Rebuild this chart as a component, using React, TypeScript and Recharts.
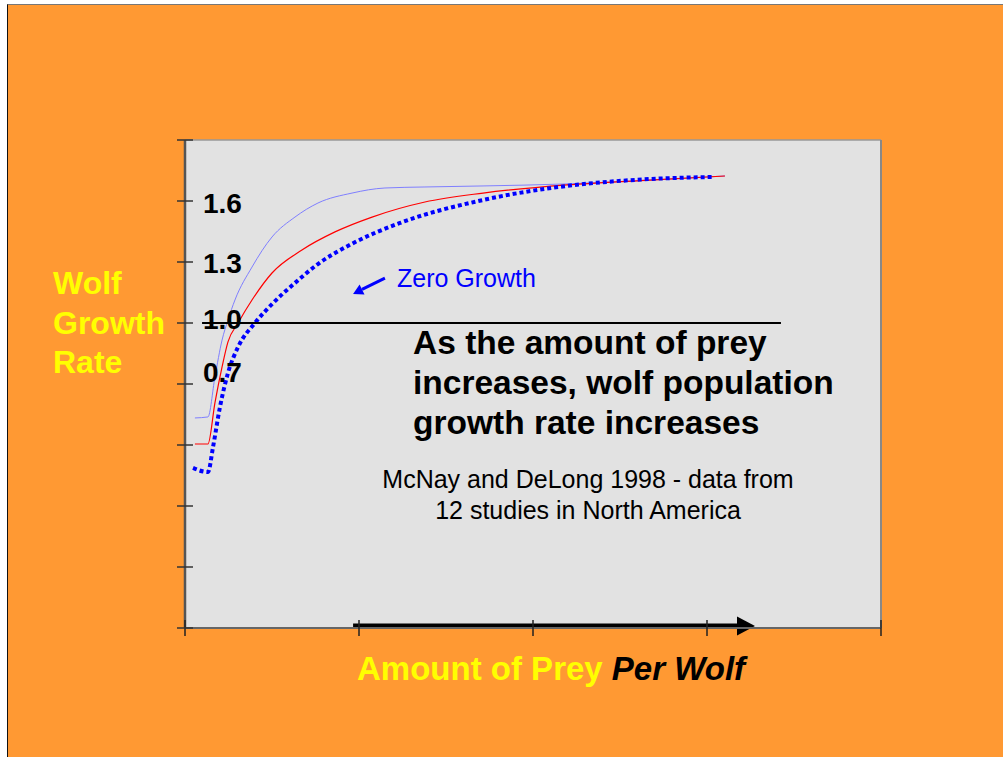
import { LineChart, Line, XAxis, YAxis, CartesianGrid, ReferenceLine } from 'recharts';

// curves: x = amount of prey per wolf (axis units), y = growth rate
const thinX = [0.057, 0.132, 0.172, 0.213, 0.247, 0.287, 0.385, 0.5, 0.632, 0.764, 0.96, 1.149, 1.379, 1.713, 2.195, 2.672, 3.103];
const thinY = [0.533, 0.538, 0.734, 0.916, 1.015, 1.113, 1.275, 1.423, 1.521, 1.59, 1.639, 1.664, 1.669, 1.674, 1.684, 1.703, 1.723];

const redX = [0.057, 0.132, 0.172, 0.213, 0.247, 0.305, 0.385, 0.5, 0.672, 0.862, 1.075, 1.379, 1.713, 2.195, 2.672, 3.103];
const redY = [0.405, 0.405, 0.607, 0.784, 0.907, 1.0, 1.113, 1.246, 1.359, 1.448, 1.521, 1.595, 1.639, 1.679, 1.703, 1.723];

const dotX = [0.046, 0.132, 0.161, 0.201, 0.247, 0.305, 0.402, 0.506, 0.632, 0.764, 0.96, 1.236, 1.713, 2.195, 2.672, 3.034];
const dotY = [0.287, 0.267, 0.39, 0.587, 0.754, 0.882, 1.0, 1.098, 1.197, 1.29, 1.39, 1.492, 1.605, 1.674, 1.708, 1.718];

const yTicks = [-0.5, -0.2, 0.1, 0.4, 0.7, 1.0, 1.3, 1.6, 1.9];
const xTicks = [0, 1, 2, 3, 4];
const labeledTicks = ['1.6', '1.3', '1.0', '0.7'];

const FONT = '"Liberation Sans", Arial, Helvetica, sans-serif';

const zip = (xs: number[], ys: number[]) => xs.map((x, i) => ({ x, y: ys[i] }));

function YTick({ x, y, payload }: any) {
  const v = Number(payload.value).toFixed(1);
  const dy: Record<string, number> = { '1.6': 2, '1.3': 1, '1.0': -4, '0.7': -12 };
  return (
    <g>
      <line x1={x - 8} x2={x + 8} y1={y} y2={y} stroke="#333" strokeWidth={1.5} />
      {labeledTicks.includes(v) && (
        <text x={x + 18} y={y + (dy[v] ?? 0) + 10} fontSize={28} fontWeight="bold" fill="#000" fontFamily={FONT}>
          {v}
        </text>
      )}
    </g>
  );
}

function XTick({ x, y }: any) {
  return <line x1={x} x2={x} y1={y - 8} y2={y + 8} stroke="#222" strokeWidth={1.5} />;
}

function arrow(color: string, width: number, headLen: number, headHalf: number) {
  return (props: any) => {
    const { x1, y1, x2, y2 } = props;
    const a = Math.atan2(y2 - y1, x2 - x1);
    const bx = x2 - headLen * Math.cos(a);
    const by = y2 - headLen * Math.sin(a);
    const px = -Math.sin(a) * headHalf;
    const py = Math.cos(a) * headHalf;
    return (
      <g>
        <line x1={x1} y1={y1} x2={bx} y2={by} stroke={color} strokeWidth={width} />
        <polygon points={`${x2},${y2} ${bx + px},${by + py} ${bx - px},${by - py}`} fill={color} />
      </g>
    );
  };
}

export default function App() {
  return (
    <div style={{ position: 'absolute', left: 0, top: 0, width: 1003, height: 757, background: '#fff', overflow: 'hidden' }}>
      <div
        style={{
          position: 'absolute', left: 7, top: 4, right: 0, bottom: 0,
          background: '#ff9933', borderLeft: '1.5px solid #111', borderTop: '1px solid #777',
        }}
      />
      <div style={{ position: 'absolute', left: 0, top: 0 }}>
        <LineChart width={1003} height={757} margin={{ top: 139, right: 121, bottom: 128, left: 184 }}>
          <CartesianGrid fill="#e2e2e2" horizontal={false} vertical={false} />
          <XAxis
            type="number" dataKey="x" domain={[0, 4]} ticks={xTicks} height={1}
            tickSize={0} tickMargin={0} tickLine={false} tick={<XTick />}
            axisLine={{ stroke: '#666', strokeWidth: 2 }}
          />
          <XAxis xAxisId="top" orientation="top" type="number" domain={[0, 4]} height={1} tick={false} tickLine={false} axisLine={{ stroke: '#999', strokeWidth: 1.5 }} />
          <YAxis
            type="number" domain={[-0.5, 1.9]} ticks={yTicks} width={1} allowDataOverflow
            tickSize={0} tickMargin={0} tickLine={false} tick={<YTick />}
            axisLine={{ stroke: '#555', strokeWidth: 2.5 }}
          />
          <YAxis yAxisId="right" orientation="right" type="number" domain={[-0.5, 1.9]} width={1} tick={false} tickLine={false} axisLine={{ stroke: '#888', strokeWidth: 2 }} />
          <Line data={zip(thinX, thinY)} dataKey="y" type="monotone" stroke="#7f7fff" strokeWidth={1} dot={false} isAnimationActive={false} />
          <Line data={zip(redX, redY)} dataKey="y" type="monotone" stroke="#ff0000" strokeWidth={1.2} dot={false} isAnimationActive={false} />
          <Line data={zip(dotX, dotY)} dataKey="y" type="monotone" stroke="#0000ff" strokeWidth={4} strokeDasharray="4 3" dot={false} isAnimationActive={false} />
          <ReferenceLine segment={[{ x: 0.098, y: 1 }, { x: 3.425, y: 1 }]} stroke="#000" strokeWidth={2} ifOverflow="visible" />
          <ReferenceLine segment={[{ x: 1.149, y: 1.221 }, { x: 0.966, y: 1.143 }]} ifOverflow="visible" shape={arrow('#0000ff', 3, 10, 5.5)} />
          <ReferenceLine segment={[{ x: 0.966, y: -0.49 }, { x: 3.276, y: -0.49 }]} ifOverflow="visible" shape={arrow('#000', 5, 18, 9.5)} />
        </LineChart>
      </div>

      <div style={{ position: 'absolute', left: 53, top: 264, fontFamily: FONT, fontWeight: 'bold', fontSize: 32, lineHeight: '39.5px', color: '#ffff00' }}>
        Wolf<br />Growth<br />Rate
      </div>

      <div style={{ position: 'absolute', left: 397, top: 263, fontFamily: FONT, fontSize: 25, lineHeight: '30px', color: '#0000ff', whiteSpace: 'nowrap' }}>
        Zero Growth
      </div>

      <div style={{ position: 'absolute', left: 413, top: 323, fontFamily: FONT, fontWeight: 'bold', fontSize: 33.5, lineHeight: '40px', color: '#000', whiteSpace: 'nowrap' }}>
        As the amount of prey<br />increases, wolf population<br />growth rate increases
      </div>

      <div style={{ position: 'absolute', left: 288, width: 600, top: 464, fontFamily: FONT, fontSize: 25, lineHeight: '31px', color: '#000', textAlign: 'center' }}>
        McNay and DeLong 1998 - data from<br />12 studies in North America
      </div>

      <div style={{ position: 'absolute', left: 357, top: 649, fontFamily: FONT, fontWeight: 'bold', fontSize: 33, lineHeight: '40px', whiteSpace: 'nowrap' }}>
        <span style={{ color: '#ffff00' }}>Amount of Prey</span>{' '}
        <span style={{ color: '#000', fontStyle: 'italic' }}>Per Wolf</span>
      </div>
    </div>
  );
}
